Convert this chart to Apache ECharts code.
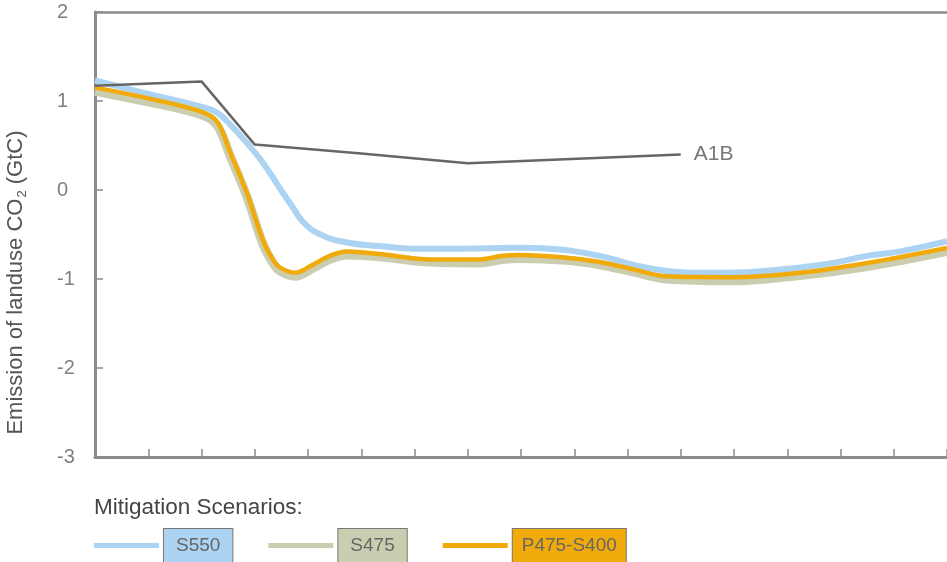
<!DOCTYPE html>
<html>
<head>
<meta charset="utf-8">
<script src="https://cdn.jsdelivr.net/npm/echarts@6/dist/echarts.min.js"></script>
<style>
html,body{margin:0;padding:0;background:#fff;}
#c{width:947px;height:562px;}
</style>
</head>
<body>
<div id="c"></div>
<script>
// ---- data (x in tick units, 0..16; y in GtC) ----
var yTicks = [-3, -2, -1, 0, 1, 2];
var seriesNames = ['S550', 'S475', 'P475-S400'];

var a1bX = [0, 2, 3, 5, 7, 11];
var a1bY = [1.17, 1.22, 0.51, 0.41, 0.30, 0.40];

var s550X = [0, 1.0, 1.97, 2.29, 2.53, 2.85, 3.15, 3.47, 3.72, 3.91, 4.23, 4.73, 5.35, 5.97, 6.91, 7.85, 8.54, 9.48, 10.1, 10.74, 11.36, 12.3, 13.24, 13.86, 14.5, 15.12, 16];
var s550Y = [1.23, 1.08, 0.94, 0.87, 0.74, 0.53, 0.31, 0.02, -0.20, -0.36, -0.50, -0.59, -0.63, -0.66, -0.66, -0.65, -0.66, -0.74, -0.84, -0.91, -0.93, -0.92, -0.87, -0.82, -0.74, -0.69, -0.575];

var pX = [0, 1.0, 1.97, 2.29, 2.54, 2.85, 3.15, 3.34, 3.47, 3.76, 4.09, 4.41, 4.73, 5.35, 6.29, 7.23, 7.66, 7.98, 8.86, 9.48, 10.1, 10.74, 11.98, 13.24, 14.5, 16];
var p475Y = [1.15, 1.03, 0.885, 0.77, 0.42, -0.03, -0.56, -0.78, -0.87, -0.93, -0.84, -0.74, -0.69, -0.72, -0.78, -0.78, -0.74, -0.73, -0.76, -0.81, -0.89, -0.97, -0.98, -0.93, -0.82, -0.65];
var s475Y = [1.11, 0.99, 0.85, 0.73, 0.38, -0.07, -0.60, -0.82, -0.91, -0.97, -0.88, -0.78, -0.73, -0.75, -0.81, -0.82, -0.78, -0.77, -0.79, -0.84, -0.92, -1.00, -1.02, -0.96, -0.86, -0.69];

function pairs(xs, ys){ return xs.map(function(x,i){ return [x, ys[i]]; }); }

var C_BLUE = '#acd3f1', C_KHAKI = '#cacdb0', C_ORANGE = '#f0ab0a', C_A1B = '#666666';
var FONT = '"Liberation Sans", Arial, sans-serif';
var AX = '#8c8c8c';

var chart = echarts.init(document.getElementById('c'), null, {renderer:'canvas'});
chart.setOption({
  animation: false,
  textStyle: {fontFamily: FONT},
  title: {
    text: 'Mitigation Scenarios:',
    left: 94, top: 496,
    padding: 0,
    textStyle: {fontSize: 22.5, color: '#444', fontWeight: 'normal', fontFamily: FONT}
  },
  legend: {
    left: 94, top: 528, padding: 0,
    itemGap: 35, itemWidth: 65, itemHeight: 5, icon: 'rect',
    selectedMode: false,
    textStyle: {fontSize: 19, color: '#666', fontFamily: FONT, borderColor: '#777', borderWidth: 1},
    data: [
      {name: seriesNames[0], textStyle: {backgroundColor: C_BLUE, padding: [7,12,7,12]}},
      {name: seriesNames[1], textStyle: {backgroundColor: C_KHAKI, padding: [7,12,7,12]}},
      {name: seriesNames[2], textStyle: {backgroundColor: C_ORANGE, padding: [7,9,7,9]}}
    ]
  },
  grid: {left: 95, right: 0, top: 12, bottom: 105, containLabel: false, outerBoundsMode: 'none'},
  xAxis: [{
    type: 'value', min: 0, max: 16, interval: 1,
    axisLine: {show: true, onZero: false, lineStyle: {color: AX, width: 3}},
    axisTick: {show: true, inside: true, length: 8, lineStyle: {color: AX, width: 1.5}},
    axisLabel: {show: false},
    splitLine: {show: false}
  }, {
    type: 'value', min: 0, max: 16, position: 'top',
    axisLine: {show: true, onZero: false, lineStyle: {color: AX, width: 2.5}},
    axisTick: {show: false}, axisLabel: {show: false}, splitLine: {show: false}
  }],
  yAxis: {
    type: 'value', min: yTicks[0], max: yTicks[yTicks.length-1], interval: 1,
    axisLine: {show: true, onZero: false, lineStyle: {color: AX, width: 3}},
    axisTick: {show: true, inside: true, length: 8, lineStyle: {color: AX, width: 1.5}},
    axisLabel: {show: true, align: 'left', margin: 38, fontSize: 20, color: '#808080', fontFamily: FONT},
    splitLine: {show: false},
    name: 'Emission of landuse CO{sub|2} (GtC)',
    nameLocation: 'middle', nameGap: 66, nameRotate: 90,
    nameTextStyle: {fontSize: 22, color: '#555', fontFamily: FONT, padding: [0, 96, 0, 0],
      rich: {sub: {fontSize: 13, color: '#555', fontFamily: FONT, padding: [13, 0, 0, 1]}}}
  },
  series: [
    {name: seriesNames[1], type: 'line', data: pairs(pX, s475Y), smooth: 0.35, showSymbol: false, symbol: 'none',
      color: C_KHAKI, itemStyle: {color: C_KHAKI}, lineStyle: {color: C_KHAKI, width: 9}, z: 2},
    {name: seriesNames[0], type: 'line', data: pairs(s550X, s550Y), smooth: 0.45, showSymbol: false, symbol: 'none',
      color: C_BLUE, itemStyle: {color: C_BLUE}, lineStyle: {color: C_BLUE, width: 6}, z: 3},
    {name: seriesNames[2], type: 'line', data: pairs(pX, p475Y), smooth: 0.35, showSymbol: false, symbol: 'none',
      color: C_ORANGE, itemStyle: {color: C_ORANGE}, lineStyle: {color: C_ORANGE, width: 4.5}, z: 4},
    {name: 'A1B', type: 'line', data: pairs(a1bX, a1bY), smooth: false, showSymbol: false, symbol: 'none',
      color: C_A1B, lineStyle: {color: C_A1B, width: 2.5}, z: 5,
      endLabel: {show: true, formatter: 'A1B', distance: 13, fontSize: 21, color: '#777', fontFamily: FONT}}
  ]
});
</script>
</body>
</html>
